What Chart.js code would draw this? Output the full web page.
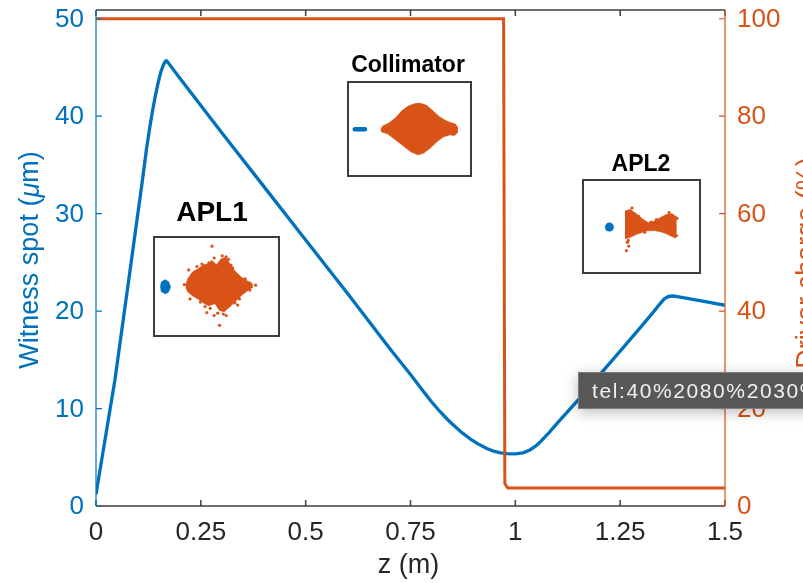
<!DOCTYPE html>
<html>
<head>
<meta charset="utf-8">
<title>Witness spot and driver charge</title>
<script src="https://cdn.jsdelivr.net/npm/chart.js@4/dist/chart.umd.min.js"></script>
<style>
  body { margin: 0; background: #fff; }
  #wrap { position: relative; width: 803px; height: 583px; overflow: hidden; }
  #main { position: absolute; left: 0; top: 0; }
  .inset { position: absolute; box-sizing: border-box; border: 2px solid #3c3c3c; background: #fff; }
  .inset canvas { display: block; }
  .inset-title {
    position: absolute; transform: translate(-50%, -50%); white-space: nowrap;
    font-family: "Liberation Sans", Arial, Helvetica, sans-serif; font-weight: bold; color: #000;
  }
  #tip {
    position: absolute; left: 578px; top: 372px; width: 260px; height: 37px; box-sizing: border-box;
    background: #575756; border: 1px solid #7d7d7b; color: #f0f0f0;
    font-family: "Liberation Sans", Arial, sans-serif; font-size: 21px; letter-spacing: 1.6px;
    line-height: 35px; padding-left: 13px; white-space: nowrap;
    box-shadow: 0 3px 14px rgba(0, 0, 0, 0.28);
  }
</style>
</head>
<body>
<div id="wrap">
  <canvas id="main" width="803" height="583"></canvas>

  <div class="inset-title" style="left:212px;top:212px;font-size:28px">APL1</div>
  <div class="inset" style="left:153px;top:236px;width:127px;height:101px">
    <canvas id="apl1" width="123" height="97"></canvas>
  </div>

  <div class="inset-title" style="left:408px;top:64px;font-size:23px">Collimator</div>
  <div class="inset" style="left:347px;top:81px;width:125px;height:96px">
    <canvas id="colim" width="121" height="92"></canvas>
  </div>

  <div class="inset-title" style="left:641px;top:163px;font-size:23px">APL2</div>
  <div class="inset" style="left:582px;top:179px;width:119px;height:95px">
    <canvas id="apl2" width="115" height="91"></canvas>
  </div>

  <div id="tip">tel:40%2080%2030%</div>
</div>

<script>
const BLUE = "#0072BD";
const ORANGE = "#D95319";
const FONT = '"Liberation Sans", Arial, Helvetica, sans-serif';

// witness spot size along z
const zSpot = [0, 0.045, 0.088, 0.11, 0.12, 0.128, 0.135, 0.142, 0.148, 0.155, 0.161, 0.165, 0.168, 0.172,
  0.2, 0.3, 0.4, 0.5, 0.6, 0.7, 0.75, 0.78, 0.80, 0.82, 0.84, 0.86, 0.875, 0.892, 0.91, 0.932, 0.95, 0.965,
  0.98, 1.0, 1.018, 1.035, 1.05, 1.06, 1.08, 1.1, 1.15, 1.2, 1.25, 1.3, 1.33, 1.345, 1.355, 1.365, 1.375,
  1.39, 1.45, 1.5];
const spot = [1.2, 12.9, 26.3, 33.2, 36.5, 38.8, 40.6, 42.2, 43.4, 44.6, 45.3, 45.6, 45.7, 45.5,
  43.9, 38.3, 32.8, 27.3, 21.8, 16.2, 13.5, 11.8, 10.7, 9.7, 8.8, 8.0, 7.45, 6.9, 6.4, 5.9, 5.6, 5.45,
  5.37, 5.35, 5.45, 5.75, 6.2, 6.6, 7.5, 8.5, 10.9, 13.4, 15.9, 18.4, 19.95, 20.75, 21.25, 21.5, 21.55,
  21.45, 21.0, 20.6];

// remaining driver charge
const zCharge = [0, 0.972, 0.975, 0.982, 1.5];
const charge = [100, 100, 4.6, 3.7, 3.7];

// ticks
const zTicks = [0, 0.25, 0.5, 0.75, 1, 1.25, 1.5];
const zTickLabels = ["0", "0.25", "0.5", "0.75", "1", "1.25", "1.5"];
const spotTicks = [0, 10, 20, 30, 40, 50];
const chargeTicks = [0, 20, 40, 60, 80, 100];

// phase space snapshots (x, y in 0..100 of each inset frame)
const apl1DriverTop = [[23.2,50.8],[25.0,58.5],[28.9,65.9],[34.2,69.9],[38.2,74.2],[42.1,75.3],[46.1,79.3],
  [50.0,74.2],[53.9,80.9],[57.9,82.6],[60.5,77.6],[65.8,67.6],[71.1,60.9],[76.3,56.5],[80.3,54.2],[81.6,50.8]];
const apl1DriverBottom = [[23.2,49.2],[25.0,44.1],[28.9,39.8],[34.2,35.8],[39.5,30.8],[43.4,28.4],[48.7,30.8],
  [52.6,23.1],[56.6,21.7],[61.8,27.4],[67.1,34.1],[72.4,40.8],[77.6,45.8],[81.6,49.2]];
const apl1DriverStray = [[46.1,95.3],[52.6,6.4],[41.6,20.7],[47.9,17.4],[58.4,17.4],[25.8,68.6],[37.4,75.3],
  [58.4,83.3],[68.4,29.1],[43.4,76.6],[33.0,72.5],[55.0,84.5],[62.5,74.0],[44.5,25.5],[51.0,20.0],[36.0,32.5],
  [30.0,62.0],[27.0,36.0],[64.0,71.0],[70.0,36.0],[75.0,58.5],[79.0,46.0],[40.0,27.5],[56.0,19.0],[60.5,80.5],
  [48.0,82.0],[32.0,67.0],[66.0,31.5],[84.0,51.5],[22.0,52.0]];
const apl1WitnessTop = [[1.3,49.8],[2.1,55.2],[5.3,57.5],[8.4,55.2],[10.0,49.5]];
const apl1WitnessBottom = [[1.3,49.8],[2.1,44.1],[5.8,41.8],[8.4,44.1],[10.0,49.5]];

const colDriverTop = [[26.5,50.0],[27.8,53.1],[33.2,56.6],[38.6,62.2],[44.1,70.3],[49.5,75.2],[54.9,77.6],
  [58.9,78.0],[64.3,75.5],[69.7,69.2],[75.1,62.9],[80.5,58.7],[84.6,56.6],[88.1,55.2],[90.0,51.0]];
const colDriverBottom = [[26.5,50.0],[27.0,46.9],[31.9,44.8],[37.3,39.5],[44.1,32.5],[50.8,25.5],[56.8,22.0],
  [61.6,23.8],[67.0,29.0],[72.4,36.0],[77.8,41.3],[83.2,43.7],[87.3,43.0],[90.0,46.5]];
const colWitness = [[4.8,49.7],[13.2,49.7]];

const apl2DriverTop = [[34.4,68.9],[39.4,70.7],[45.1,65.4],[50.7,59.3],[56.3,54.6],[62.0,56.4],[67.6,60.7],
  [73.2,64.3],[78.9,65.4],[81.7,62.9],[82.5,56.4],[82.5,42.1]];
const apl2DriverBottom = [[34.4,35.0],[39.4,36.8],[45.1,40.4],[50.7,42.9],[56.3,45.0],[62.0,45.0],[67.6,43.9],
  [73.2,41.4],[78.9,37.9],[81.7,36.4],[82.5,42.1]];
const apl2DriverStray = [[36.6,30.7],[38.0,26.1],[35.8,20.7],[37.5,33.0],[41.0,72.5],[47.5,62.0],[64.0,58.5],
  [76.0,67.0],[83.5,60.0],[83.0,39.0],[53.0,43.0],[59.0,55.5]];
const apl2Witness = [[19.7,49.3]];

const pts = (xs, ys) => xs.map((x, i) => ({ x: x, y: ys[i] }));
const xy = (arr) => arr.map((p) => ({ x: p[0], y: p[1] }));

// axes drawn MATLAB style: box, inward ticks, coloured y axes
const axesBox = {
  id: "axesBox",
  afterDraw(chart) {
    const { ctx, chartArea: a, scales } = chart;
    const tick = 6;
    ctx.save();

    ctx.strokeStyle = "#404040";
    ctx.lineWidth = 1.5;
    ctx.beginPath();
    ctx.moveTo(a.left, a.top); ctx.lineTo(a.right, a.top);
    ctx.moveTo(a.left, a.bottom); ctx.lineTo(a.right, a.bottom);
    zTicks.forEach((v) => {
      const px = scales.x.getPixelForValue(v);
      ctx.moveTo(px, a.bottom); ctx.lineTo(px, a.bottom - tick);
      ctx.moveTo(px, a.top); ctx.lineTo(px, a.top + tick);
    });
    ctx.stroke();

    ctx.lineWidth = 1.2;
    ctx.strokeStyle = BLUE;
    ctx.beginPath();
    ctx.moveTo(a.left, a.top); ctx.lineTo(a.left, a.bottom);
    spotTicks.forEach((v) => {
      const py = scales.y.getPixelForValue(v);
      ctx.moveTo(a.left, py); ctx.lineTo(a.left + tick, py);
    });
    ctx.stroke();

    ctx.strokeStyle = ORANGE;
    ctx.beginPath();
    ctx.moveTo(a.right, a.top); ctx.lineTo(a.right, a.bottom);
    chargeTicks.forEach((v) => {
      const py = scales.y1.getPixelForValue(v);
      ctx.moveTo(a.right, py); ctx.lineTo(a.right - tick, py);
    });
    ctx.stroke();

    // tick labels
    ctx.font = "26px " + FONT;
    ctx.textBaseline = "middle";
    ctx.fillStyle = "#262626";
    ctx.textAlign = "center";
    zTicks.forEach((v, i) => ctx.fillText(zTickLabels[i], scales.x.getPixelForValue(v), a.bottom + 27));
    ctx.fillStyle = BLUE;
    ctx.textAlign = "right";
    spotTicks.forEach((v) => ctx.fillText(String(v), a.left - 12, scales.y.getPixelForValue(v) + 1));
    ctx.fillStyle = ORANGE;
    ctx.textAlign = "left";
    chargeTicks.forEach((v) => ctx.fillText(String(v), a.right + 12, scales.y1.getPixelForValue(v) + 1));

    // axis titles
    ctx.font = "27px " + FONT;
    ctx.fillStyle = "#262626";
    ctx.textAlign = "center";
    ctx.fillText("z (m)", (a.left + a.right) / 2 - 2, a.bottom + 60);

    const parts = [["Witness spot (", "27px " + FONT], ["\u03bc", "italic 27px " + FONT], ["m)", "27px " + FONT]];
    const widths = parts.map((p) => { ctx.font = p[1]; return ctx.measureText(p[0]).width; });
    const total = widths.reduce((s, w) => s + w, 0);
    ctx.save();
    ctx.translate(31, 260);
    ctx.rotate(-Math.PI / 2);
    ctx.fillStyle = BLUE;
    ctx.textAlign = "left";
    let cx = -total / 2;
    parts.forEach((p, i) => { ctx.font = p[1]; ctx.fillText(p[0], cx, 0); cx += widths[i]; });
    ctx.restore();

    ctx.save();
    ctx.translate(808, 263);
    ctx.rotate(-Math.PI / 2);
    ctx.font = "27px " + FONT;
    ctx.fillStyle = ORANGE;
    ctx.textAlign = "center";
    ctx.fillText("Driver charge (%)", 0, 0);
    ctx.restore();

    ctx.restore();
  }
};

new Chart(document.getElementById("main"), {
  type: "line",
  data: {
    datasets: [
      {
        label: "Driver charge",
        data: pts(zCharge, charge),
        yAxisID: "y1",
        borderColor: ORANGE,
        borderWidth: 3,
        pointRadius: 0,
        tension: 0,
        order: 0,
      },
      {
        label: "Witness spot",
        data: pts(zSpot, spot),
        yAxisID: "y",
        borderColor: BLUE,
        borderWidth: 3.3,
        borderJoinStyle: "round",
        pointRadius: 0,
        tension: 0,
        order: 1,
      },
    ],
  },
  options: {
    responsive: false,
    animation: false,
    layout: { padding: { left: 96, right: 78, top: 10, bottom: 77 } },
    plugins: { legend: { display: false }, tooltip: { enabled: false } },
    scales: {
      x: { type: "linear", min: 0, max: 1.5, display: false },
      y: { type: "linear", min: 0, max: 50.9, display: false },
      y1: { type: "linear", min: 0, max: 101.8, display: false },
    },
  },
  plugins: [axesBox],
});

// small snapshot charts
function blob(top, bottom, color) {
  return [
    { data: xy(top), showLine: true, borderWidth: 0.8, borderColor: color, pointRadius: 0, fill: false },
    { data: xy(bottom), showLine: true, borderWidth: 0.8, borderColor: color, pointRadius: 0,
      fill: "-1", backgroundColor: color },
  ];
}

function stray(arr, color, r) {
  return { data: xy(arr), showLine: false, pointRadius: r, backgroundColor: color, borderWidth: 0 };
}

function inset(id, datasets) {
  new Chart(document.getElementById(id), {
    type: "scatter",
    data: { datasets: datasets },
    options: {
      responsive: false,
      animation: false,
      layout: { padding: 0 },
      plugins: { legend: { display: false }, tooltip: { enabled: false } },
      scales: {
        x: { type: "linear", min: 0, max: 100, display: false },
        y: { type: "linear", min: 0, max: 100, display: false },
      },
    },
  });
}

inset("apl1", [
  ...blob(apl1WitnessTop, apl1WitnessBottom, BLUE),
  ...blob(apl1DriverTop, apl1DriverBottom, ORANGE),
  stray(apl1DriverStray, ORANGE, 1.6),
]);

inset("colim", [
  { data: xy(colWitness), showLine: true, borderColor: BLUE, borderWidth: 4.5, borderCapStyle: "round",
    pointRadius: 0 },
  ...blob(colDriverTop, colDriverBottom, ORANGE),
]);

inset("apl2", [
  stray(apl2Witness, BLUE, 4.5),
  ...blob(apl2DriverTop, apl2DriverBottom, ORANGE),
  stray(apl2DriverStray, ORANGE, 1.6),
]);
</script>
</body>
</html>
